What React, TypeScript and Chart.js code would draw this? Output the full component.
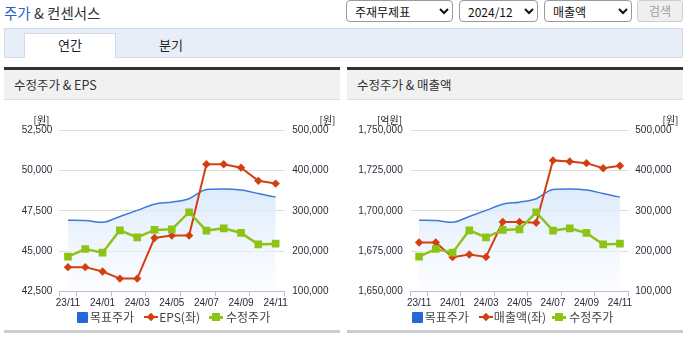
import React, { useEffect, useRef } from 'react';
import { Chart, registerables } from 'chart.js';

Chart.register(...registerables);

const months = ['23/11', '23/12', '24/01', '24/02', '24/03', '24/04', '24/05', '24/06', '24/07', '24/08', '24/09', '24/10', '24/11'];
const targetPrice = [276500, 275800, 271500, 286000, 301000, 316500, 321500, 330000, 353000, 354000, 351500, 343000, 334000];
const adjPrice = [186000, 205000, 196000, 251500, 234000, 252500, 254000, 296500, 250800, 256500, 245000, 216500, 218300];
const eps = [44000, 44000, 43730, 43290, 43290, 45810, 45960, 45960, 50390, 50390, 50180, 49360, 49190];
const sales = [1680300, 1680300, 1671200, 1672900, 1671300, 1693100, 1693100, 1692600, 1731300, 1730600, 1729600, 1726400, 1728000];
const epsTicks = [42500, 45000, 47500, 50000, 52500];
const salesTicks = [1650000, 1675000, 1700000, 1725000, 1750000];
const priceTicks = [100000, 200000, 300000, 400000, 500000];

const RED = '#d3400f';
const GREEN = '#8cc315';
const BLUE = '#3c7ad6';
const BLUE_LEG = '#2468d9';
const AXIS = '#b3bfd3';
const KR = '"Noto Sans CJK KR", "Noto Sans", sans-serif';
const NUM = '"Liberation Sans Narrow", "Liberation Sans", Arial, sans-serif';

const fmt = (v: number) => Number(v).toLocaleString('en-US');

type CP = {
  width: number;
  height: number;
  leftW: number;
  rightW: number;
  primary: number[];
  primaryLabel: string;
  leftTicks: number[];
  leftPad: number;
  rightPad: number;
};

function ComboChart(p: CP) {
  const ref = useRef<HTMLCanvasElement>(null);
  useEffect(() => {
    const canvas = ref.current!;
    const tickFont = { family: NUM, size: 10 };
    const chart = new Chart(canvas, {
      type: 'line',
      data: {
        labels: months,
        datasets: [
          {
            label: '수정주가',
            data: adjPrice,
            yAxisID: 'y1',
            borderColor: GREEN,
            backgroundColor: GREEN,
            pointBackgroundColor: GREEN,
            borderWidth: 2.5,
            pointStyle: 'rect',
            pointRadius: 5.4,
            pointBorderWidth: 0,
            tension: 0,
          },
          {
            label: p.primaryLabel,
            data: p.primary,
            yAxisID: 'y',
            borderColor: RED,
            backgroundColor: RED,
            pointBackgroundColor: RED,
            borderWidth: 2,
            pointStyle: 'rectRot',
            pointRadius: 4.2,
            pointBorderWidth: 0,
            tension: 0,
          },
          {
            label: '목표주가',
            data: targetPrice,
            yAxisID: 'y1',
            borderColor: BLUE,
            borderWidth: 1.5,
            pointRadius: 0,
            fill: 'start',
            cubicInterpolationMode: 'monotone',
            backgroundColor: (c: any) => {
              const ca = c.chart.chartArea;
              if (!ca) return 'rgba(220,234,250,0.8)';
              const g = c.chart.ctx.createLinearGradient(0, ca.top + 55, 0, ca.bottom);
              g.addColorStop(0, 'rgba(214,230,250,0.85)');
              g.addColorStop(1, 'rgba(250,252,255,0.6)');
              return g;
            },
          },
        ],
      },
      options: {
        animation: false,
        responsive: false,
        maintainAspectRatio: false,
        events: [],
        layout: { padding: { top: 29.3, bottom: 18.7, left: 0, right: 0 } },
        plugins: { legend: { display: false }, tooltip: { enabled: false } },
        scales: {
          x: {
            offset: true,
            grid: {
              offset: true,
              drawOnChartArea: false,
              drawTicks: true,
              tickLength: 5,
              color: (c: any) =>
                c.index === undefined || c.index === 0 || c.index % 2 === 1 ? AXIS : 'rgba(0,0,0,0)',
            },
            border: { color: AXIS },
            ticks: {
              autoSkip: false,
              maxRotation: 0,
              minRotation: 0,
              padding: 1,
              color: '#2b2b3b',
              font: tickFont,
              callback: (_v: any, i: number) => (i % 2 === 0 ? months[i] : ''),
            },
            afterFit: (s: any) => {
              s.height = 20;
            },
          },
          y: {
            position: 'left',
            min: p.leftTicks[0],
            max: p.leftTicks[p.leftTicks.length - 1],
            ticks: {
              stepSize: p.leftTicks[1] - p.leftTicks[0],
              padding: p.leftPad,
              color: '#2b2b3b',
              font: tickFont,
              callback: (v: any) => fmt(v),
            },
            grid: { color: '#dcdcdc', drawTicks: false },
            border: { display: false },
            afterFit: (s: any) => {
              s.width = p.leftW;
            },
          },
          y1: {
            position: 'right',
            min: priceTicks[0],
            max: priceTicks[priceTicks.length - 1],
            ticks: {
              stepSize: priceTicks[1] - priceTicks[0],
              padding: p.rightPad,
              color: '#2b2b3b',
              font: tickFont,
              callback: (v: any) => fmt(v),
            },
            grid: { drawOnChartArea: false, drawTicks: false },
            border: { display: false },
            afterFit: (s: any) => {
              s.width = p.rightW;
            },
          },
        },
      },
    } as any);
    return () => chart.destroy();
  }, []);
  return (
    <canvas
      ref={ref}
      width={p.width}
      height={p.height}
      style={{ position: 'absolute', left: 0, top: 34, width: p.width, height: p.height }}
    />
  );
}

function LegendRow({ left, label, gapAfterLabel }: { left: number; label: string; gapAfterLabel: number }) {
  return (
    <div
      style={{
        position: 'absolute',
        left,
        top: 243,
        height: 14,
        display: 'flex',
        alignItems: 'center',
        fontSize: 12,
        lineHeight: '14px',
        color: '#444',
        whiteSpace: 'nowrap',
        fontFamily: KR,
      }}
    >
      <span style={{ display: 'inline-block', width: 11, height: 11, background: BLUE_LEG, borderRadius: 1, marginRight: 2 }} />
      <span style={{ marginRight: 10 }}>목표주가</span>
      <span style={{ position: 'relative', display: 'inline-block', width: 14, height: 12, marginRight: 1 }}>
        <span style={{ position: 'absolute', left: 0, top: 5, width: 14, height: 2, background: RED }} />
        <span
          style={{
            position: 'absolute',
            left: 4,
            top: 3,
            width: 6,
            height: 6,
            background: RED,
            transform: 'rotate(45deg)',
          }}
        />
      </span>
      <span style={{ marginRight: gapAfterLabel }}>{label}</span>
      <span style={{ position: 'relative', display: 'inline-block', width: 14, height: 12, marginRight: 3 }}>
        <span style={{ position: 'absolute', left: 0, top: 5, width: 14, height: 2.5, background: GREEN }} />
        <span style={{ position: 'absolute', left: 3, top: 2, width: 8, height: 8, background: GREEN }} />
      </span>
      <span>수정주가</span>
    </div>
  );
}

function Panel(props: {
  left: number;
  title: string;
  leftUnit: string;
  leftUnitX: number;
  rightUnitX: number;
  chart: CP;
  legendLeft: number;
  legendLabel: string;
  legendGap: number;
}) {
  const unitStyle: React.CSSProperties = {
    position: 'absolute',
    top: 47,
    fontSize: 10,
    lineHeight: '12px',
    color: '#222',
    fontFamily: KR,
    transform: 'translateX(-50%)',
    whiteSpace: 'nowrap',
  };
  return (
    <div style={{ position: 'absolute', left: props.left, top: 67, width: 336, height: 266 }}>
      <div style={{ position: 'absolute', left: 0, top: 0, width: 336, height: 3, background: '#333' }} />
      <div
        style={{
          position: 'absolute',
          left: 0,
          top: 3,
          width: 336,
          height: 30,
          background: '#f1f1f1',
          borderBottom: '1px solid #dedede',
          boxSizing: 'border-box',
        }}
      >
        <span
          style={{
            position: 'absolute',
            left: 10,
            top: 7,
            fontSize: 12.5,
            lineHeight: '16px',
            color: '#333',
            fontFamily: KR,
            whiteSpace: 'nowrap',
          }}
        >
          {props.title}
        </span>
      </div>
      <ComboChart {...props.chart} />
      <div style={{ ...unitStyle, left: props.leftUnitX }}>{props.leftUnit}</div>
      <div style={{ ...unitStyle, left: props.rightUnitX }}>[원]</div>
      <LegendRow left={props.legendLeft} label={props.legendLabel} gapAfterLabel={props.legendGap} />
      <div style={{ position: 'absolute', left: 0, top: 263, width: 336, height: 3, background: '#cccccc' }} />
    </div>
  );
}

const selectStyle: React.CSSProperties = {
  position: 'absolute',
  top: 0,
  height: 22,
  fontSize: 12,
  fontFamily: KR,
  color: '#111',
  padding: '0 4px',
  borderRadius: 4,
  border: '1px solid #9a9a9a',
  background: '#fff',
  boxSizing: 'border-box',
};

export default function App() {
  return (
    <div
      style={{
        position: 'relative',
        width: 691,
        height: 340,
        overflow: 'hidden',
        background: '#fff',
        fontFamily: KR,
      }}
    >
      <style>{`body{margin:0;}`}</style>
      <div
        style={{
          position: 'absolute',
          left: 4,
          top: 3,
          fontSize: 14.5,
          lineHeight: '20px',
          color: '#333',
          whiteSpace: 'nowrap',
        }}
      >
        <span style={{ color: '#2a62c6' }}>주가</span> &amp; 컨센서스
      </div>

      <select style={{ ...selectStyle, left: 346, width: 107 }} defaultValue="a">
        <option value="a">주재무제표</option>
      </select>
      <select style={{ ...selectStyle, left: 459, width: 79 }} defaultValue="b">
        <option value="b">2024/12</option>
      </select>
      <select style={{ ...selectStyle, left: 544, width: 88 }} defaultValue="c">
        <option value="c">매출액</option>
      </select>
      <div
        style={{
          position: 'absolute',
          left: 637,
          top: 0,
          width: 46,
          height: 22,
          boxSizing: 'border-box',
          border: '1px solid #cfcfcf',
          borderRadius: 3,
          background: '#efefef',
          color: '#a0a0a0',
          fontSize: 12,
          lineHeight: '20px',
          textAlign: 'center',
        }}
      >
        검색
      </div>

      <div
        style={{
          position: 'absolute',
          left: 4,
          top: 28,
          width: 679,
          height: 30,
          boxSizing: 'border-box',
          background: '#e8eef8',
          border: '1px solid #d2dbea',
        }}
      />
      <div
        style={{
          position: 'absolute',
          left: 24,
          top: 33,
          width: 92,
          height: 25,
          boxSizing: 'border-box',
          background: '#fff',
          borderTop: '1px solid #d2dbea',
          borderLeft: '1px solid #d2dbea',
          borderRight: '1px solid #d2dbea',
          textAlign: 'center',
          fontSize: 13,
          lineHeight: '22px',
          color: '#222',
        }}
      >
        연간
      </div>
      <div
        style={{
          position: 'absolute',
          left: 131,
          top: 34,
          width: 80,
          height: 22,
          textAlign: 'center',
          fontSize: 13,
          lineHeight: '22px',
          color: '#222',
        }}
      >
        분기
      </div>

      <Panel
        left={4}
        title="수정주가 & EPS"
        leftUnit="[원]"
        leftUnitX={37.5}
        rightUnitX={323.5}
        legendLeft={73}
        legendLabel="EPS(좌)"
        legendGap={9}
        chart={{
          width: 336,
          height: 229,
          leftW: 55.3,
          rightW: 55.7,
          primary: eps,
          primaryLabel: 'EPS(좌)',
          leftTicks: epsTicks,
          leftPad: 7,
          rightPad: 8,
        }}
      />
      <Panel
        left={347}
        title="수정주가 & 매출액"
        leftUnit="[억원]"
        leftUnitX={42.5}
        rightUnitX={323.5}
        legendLeft={64.7}
        legendLabel="매출액(좌)"
        legendGap={6}
        chart={{
          width: 336,
          height: 229,
          leftW: 63.7,
          rightW: 54.7,
          primary: sales,
          primaryLabel: '매출액(좌)',
          leftTicks: salesTicks,
          leftPad: 8,
          rightPad: 7,
        }}
      />
    </div>
  );
}
